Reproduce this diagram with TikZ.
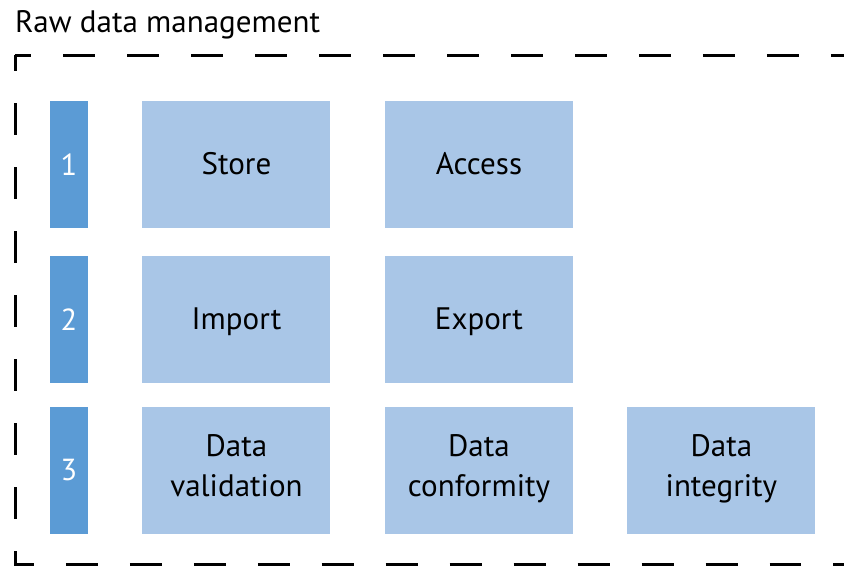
\documentclass[tikz,border=0pt]{standalone}
\usepackage{fontspec}
\setmainfont{PT Sans}
\usetikzlibrary{positioning}
\definecolor{BarColor}{RGB}{91,155,213}
\definecolor{BoxColor}{RGB}{169,198,231}
\newcommand\boxstrut{\rule[-0.25\baselineskip]{0pt}{\baselineskip}}

\begin{document}
\begin{tikzpicture}[
  numbar/.style={fill=BarColor, text=white, minimum width=1.14cm, minimum height=3.81cm, inner sep=0pt, font=\fontsize{26}{32}\selectfont},
  taskbox/.style={fill=BoxColor, minimum width=5.64cm, minimum height=3.81cm, inner sep=0pt, align=center, font=\fontsize{26.5}{33.5}\selectfont,
    execute at begin node=\boxstrut, execute at end node=\boxstrut},
  framedash/.style={line width=2.6pt, dash pattern=on 27.3pt off 27.3pt, dash phase=13.65pt},
  node distance=1.62cm
]
  \useasboundingbox (0,0) rectangle (25.32,-16.98);
  \node[anchor=base west, inner sep=0pt, font=\fontsize{26.5}{32}\selectfont] (title) at (0.45,-0.99) {Raw data management};

  % dashed frame, open to the right
  \coordinate (frametl) at (0.46,-1.665);
  \coordinate (frametr) at (26,-1.665);
  \coordinate (framebl) at (0.46,-16.94);
  \coordinate (framebr) at (26,-16.94);
  \draw[framedash] (frametl) -- (frametr);
  \draw[framedash] (frametl) -- (framebl) -- (framebr);

  % rows
  \node[numbar] (n1) at (2.07,-4.935) {1};
  \node[numbar, below=0.84cm of n1] (n2) {2};
  \node[numbar, below=0.69cm of n2] (n3) {3};

  \node[taskbox, right=of n1] (store) {Store};
  \node[taskbox, right=of store] (access) {Access};
  \node[taskbox, right=of n2] (import) {Import};
  \node[taskbox, right=of import] (export) {Export};
  \node[taskbox, right=of n3] (validation) {Data\\validation};
  \node[taskbox, right=of validation] (conformity) {Data\\conformity};
  \node[taskbox, right=of conformity] (integrity) {Data\\integrity};
\end{tikzpicture}
\end{document}
